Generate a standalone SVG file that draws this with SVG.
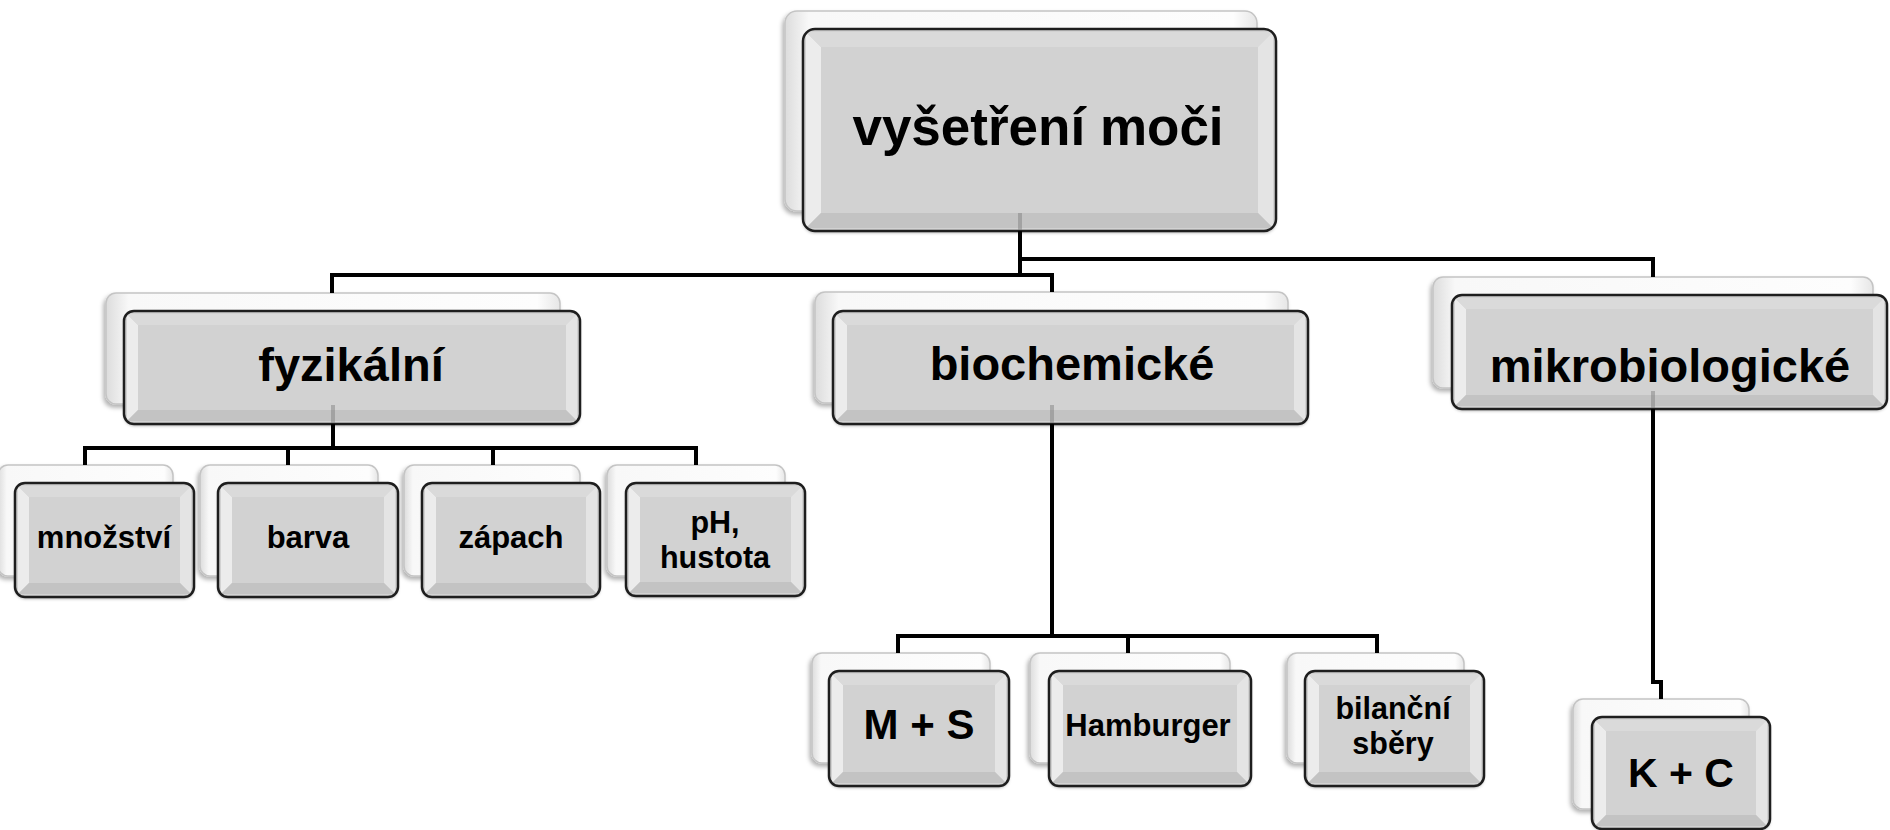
<svg xmlns="http://www.w3.org/2000/svg" width="1890" height="830" viewBox="0 0 1890 830">
<defs>
<linearGradient id="gBack" x1="0" y1="0" x2="1" y2="0">
<stop offset="0" stop-color="#dcdcdc"/>
<stop offset="0.05" stop-color="#f8f8f8"/>
<stop offset="0.95" stop-color="#fdfdfd"/>
<stop offset="1" stop-color="#e6e6e6"/>
</linearGradient>
<filter id="sh" x="-10%" y="-10%" width="120%" height="130%">
<feDropShadow dx="-2" dy="3" stdDeviation="2" flood-color="#000" flood-opacity="0.3"/>
</filter>
<filter id="sh2" x="-10%" y="-10%" width="120%" height="130%">
<feDropShadow dx="0" dy="2" stdDeviation="1.5" flood-color="#000" flood-opacity="0.3"/>
</filter>
</defs>
<style>
.back{fill:url(#gBack);stroke:#c4c4c4;stroke-width:1.5;filter:url(#sh)}
.face{fill:#d2d2d2;filter:url(#sh2)}
.bl{fill:#ececec}
.bt{fill:#dadada}
.br{fill:#e4e4e4}
.bb{fill:#c3c3c3}
.edge{fill:none;stroke:#1e1e1e;stroke-width:2.5}
.t{font-family:"Liberation Sans",Arial,sans-serif;font-weight:bold;fill:#000;text-anchor:middle}
.conn{fill:none;stroke:#000;stroke-width:4}
.faint{fill:none;stroke:#7a7a7a;stroke-width:4;opacity:0.45}
</style>
<rect width="1890" height="830" fill="#fff"/>

<g id="n-root">
<rect class="back" x="785" y="11" width="472" height="200" rx="12"/>
<rect class="face" x="803" y="29" width="473" height="202" rx="12"/>
<polygon class="bl" points="806,32 821,47 821,213 806,228"/>
<polygon class="bt" points="806,32 1273,32 1258,47 821,47"/>
<polygon class="br" points="1273,32 1273,228 1258,213 1258,47"/>
<polygon class="bb" points="806,228 821,213 1258,213 1273,228"/>
<rect class="edge" x="803" y="29" width="473" height="202" rx="12"/>
<text class="t" x="1038" y="145" font-size="53">vyšetření moči</text>
</g>

<g id="n-fyzikalni">
<rect class="back" x="106" y="293" width="454" height="111" rx="10"/>
<rect class="face" x="124" y="311" width="456" height="113" rx="10"/>
<polygon class="bl" points="127,314 138,325 138,410 127,421"/>
<polygon class="bt" points="127,314 577,314 566,325 138,325"/>
<polygon class="br" points="577,314 577,421 566,410 566,325"/>
<polygon class="bb" points="127,421 138,410 566,410 577,421"/>
<rect class="edge" x="124" y="311" width="456" height="113" rx="10"/>
<text class="t" x="351" y="381" font-size="47">fyzikální</text>
</g>

<g id="n-biochemicke">
<rect class="back" x="815" y="292" width="473" height="111" rx="10"/>
<rect class="face" x="833" y="311" width="475" height="113" rx="10"/>
<polygon class="bl" points="836,314 847,325 847,410 836,421"/>
<polygon class="bt" points="836,314 1305,314 1294,325 847,325"/>
<polygon class="br" points="1305,314 1305,421 1294,410 1294,325"/>
<polygon class="bb" points="836,421 847,410 1294,410 1305,421"/>
<rect class="edge" x="833" y="311" width="475" height="113" rx="10"/>
<text class="t" x="1072" y="380" font-size="47">biochemické</text>
</g>

<g id="n-mikrobiologicke">
<rect class="back" x="1433" y="277" width="440" height="111" rx="10"/>
<rect class="face" x="1452" y="295" width="435" height="114" rx="10"/>
<polygon class="bl" points="1455,298 1466,309 1466,395 1455,406"/>
<polygon class="bt" points="1455,298 1884,298 1873,309 1466,309"/>
<polygon class="br" points="1884,298 1884,406 1873,395 1873,309"/>
<polygon class="bb" points="1455,406 1466,395 1873,395 1884,406"/>
<rect class="edge" x="1452" y="295" width="435" height="114" rx="10"/>
<text class="t" x="1670" y="382" font-size="47">mikrobiologické</text>
</g>

<g id="n-mnozstvi">
<rect class="back" x="-2" y="465" width="175" height="111" rx="10"/>
<rect class="face" x="15" y="483" width="179" height="114" rx="10"/>
<polygon class="bl" points="18,486 29,497 29,583 18,594"/>
<polygon class="bt" points="18,486 191,486 180,497 29,497"/>
<polygon class="br" points="191,486 191,594 180,583 180,497"/>
<polygon class="bb" points="18,594 29,583 180,583 191,594"/>
<rect class="edge" x="15" y="483" width="179" height="114" rx="10"/>
<text class="t" x="104" y="548" font-size="31">množství</text>
</g>

<g id="n-barva">
<rect class="back" x="200" y="465" width="178" height="111" rx="10"/>
<rect class="face" x="218" y="483" width="180" height="114" rx="10"/>
<polygon class="bl" points="221,486 232,497 232,583 221,594"/>
<polygon class="bt" points="221,486 395,486 384,497 232,497"/>
<polygon class="br" points="395,486 395,594 384,583 384,497"/>
<polygon class="bb" points="221,594 232,583 384,583 395,594"/>
<rect class="edge" x="218" y="483" width="180" height="114" rx="10"/>
<text class="t" x="308" y="548" font-size="31">barva</text>
</g>

<g id="n-zapach">
<rect class="back" x="404" y="465" width="176" height="111" rx="10"/>
<rect class="face" x="422" y="483" width="178" height="114" rx="10"/>
<polygon class="bl" points="425,486 436,497 436,583 425,594"/>
<polygon class="bt" points="425,486 597,486 586,497 436,497"/>
<polygon class="br" points="597,486 597,594 586,583 586,497"/>
<polygon class="bb" points="425,594 436,583 586,583 597,594"/>
<rect class="edge" x="422" y="483" width="178" height="114" rx="10"/>
<text class="t" x="511" y="548" font-size="31">zápach</text>
</g>

<g id="n-ph">
<rect class="back" x="607" y="465" width="178" height="111" rx="10"/>
<rect class="face" x="626" y="483" width="179" height="113" rx="10"/>
<polygon class="bl" points="629,486 640,497 640,582 629,593"/>
<polygon class="bt" points="629,486 802,486 791,497 640,497"/>
<polygon class="br" points="802,486 802,593 791,582 791,497"/>
<polygon class="bb" points="629,593 640,582 791,582 802,593"/>
<rect class="edge" x="626" y="483" width="179" height="113" rx="10"/>
<text class="t" font-size="30.5"><tspan x="715" y="533">pH,</tspan><tspan x="715" y="568">hustota</tspan></text>
</g>

<g id="n-ms">
<rect class="back" x="812" y="653" width="178" height="110" rx="10"/>
<rect class="face" x="829" y="671" width="180" height="115" rx="10"/>
<polygon class="bl" points="832,674 843,685 843,772 832,783"/>
<polygon class="bt" points="832,674 1006,674 995,685 843,685"/>
<polygon class="br" points="1006,674 1006,783 995,772 995,685"/>
<polygon class="bb" points="832,783 843,772 995,772 1006,783"/>
<rect class="edge" x="829" y="671" width="180" height="115" rx="10"/>
<text class="t" x="919" y="739" font-size="42">M + S</text>
</g>

<g id="n-hamburger">
<rect class="back" x="1030" y="653" width="200" height="110" rx="10"/>
<rect class="face" x="1049" y="671" width="202" height="115" rx="10"/>
<polygon class="bl" points="1052,674 1063,685 1063,772 1052,783"/>
<polygon class="bt" points="1052,674 1248,674 1237,685 1063,685"/>
<polygon class="br" points="1248,674 1248,783 1237,772 1237,685"/>
<polygon class="bb" points="1052,783 1063,772 1237,772 1248,783"/>
<rect class="edge" x="1049" y="671" width="202" height="115" rx="10"/>
<text class="t" x="1148" y="736" font-size="31">Hamburger</text>
</g>

<g id="n-bilancni">
<rect class="back" x="1287" y="653" width="177" height="110" rx="10"/>
<rect class="face" x="1305" y="671" width="179" height="115" rx="10"/>
<polygon class="bl" points="1308,674 1319,685 1319,772 1308,783"/>
<polygon class="bt" points="1308,674 1481,674 1470,685 1319,685"/>
<polygon class="br" points="1481,674 1481,783 1470,772 1470,685"/>
<polygon class="bb" points="1308,783 1319,772 1470,772 1481,783"/>
<rect class="edge" x="1305" y="671" width="179" height="115" rx="10"/>
<text class="t" font-size="30.5"><tspan x="1393" y="719">bilanční</tspan><tspan x="1393" y="754">sběry</tspan></text>
</g>

<g id="n-kc">
<rect class="back" x="1573" y="699" width="176" height="110" rx="10"/>
<rect class="face" x="1592" y="717" width="178" height="112" rx="10"/>
<polygon class="bl" points="1595,720 1606,731 1606,815 1595,826"/>
<polygon class="bt" points="1595,720 1767,720 1756,731 1606,731"/>
<polygon class="br" points="1767,720 1767,826 1756,815 1756,731"/>
<polygon class="bb" points="1595,826 1606,815 1756,815 1767,826"/>
<rect class="edge" x="1592" y="717" width="178" height="112" rx="10"/>
<text class="t" x="1681" y="787" font-size="41">K + C</text>
</g>

<g id="connectors">
<path class="faint" d="M1020 213 V230"/>
<path class="faint" d="M333 405 V423"/>
<path class="faint" d="M1052 405 V423"/>
<path class="faint" d="M1653 391 V408"/>
<path class="conn" d="M1020 231 V275"/>
<path class="conn" d="M1020 259 H1653 V277"/>
<path class="conn" d="M332 293 V275 H1052 V292"/>
<path class="conn" d="M333 424 V448"/>
<path class="conn" d="M85 465 V448 H696 V465"/>
<path class="conn" d="M288 448 V465"/>
<path class="conn" d="M493 448 V465"/>
<path class="conn" d="M1052 424 V636"/>
<path class="conn" d="M898 653 V636 H1377 V653"/>
<path class="conn" d="M1128 636 V653"/>
<path class="conn" d="M1653 409 V682 H1661 V699"/>
</g>
</svg>
